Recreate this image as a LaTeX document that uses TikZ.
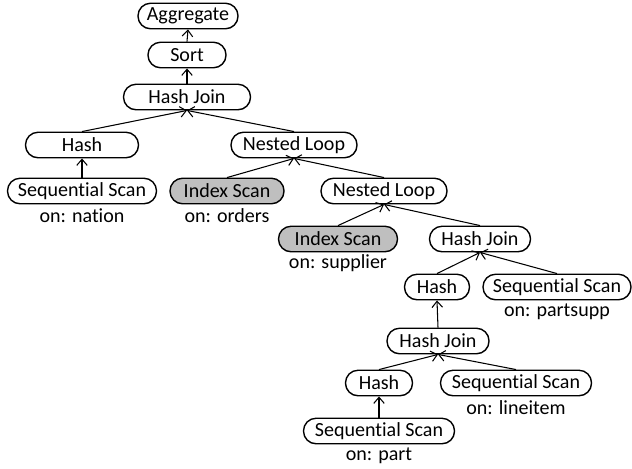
\documentclass[tikz,border=0pt]{standalone}
\usepackage{fontspec}
\setmainfont{Carlito}[Ligatures={NoCommon,NoContextual}]
\usetikzlibrary{arrows.meta}
\begin{document}
\begin{tikzpicture}[x=0.02cm, y=-0.02cm,
    every node/.style={font=\fontsize{11.4}{13}\selectfont},
    op/.style={rectangle, rounded corners=0.25cm, draw, line width=0.8pt, minimum height=0.51cm, inner sep=0pt},
    idx/.style={op, fill=black!25},
    flow/.style={-{Straight Barb[length=3.5pt,width=6pt]}, line width=0.6pt}]
    \useasboundingbox (0,0) rectangle (632,468);

    \draw (188, 16) node[op, minimum width=2.0cm] (agg) {Aggregate};
    \draw (187, 55) node[op, minimum width=1.56cm] (sort) {Sort};
    \draw (187, 97) node[op, minimum width=2.54cm] (hjA) {Hash Join};
    \draw (82, 145) node[op, minimum width=2.26cm] (hashA) {Hash};
    \draw (294, 145) node[op, minimum width=2.52cm] (nlA) {Nested Loop};
    \draw (82, 191) node[op, minimum width=2.98cm] (seqNation) {Sequential Scan};
    \draw (227, 191) node[idx, minimum width=2.28cm] (idxOrders) {Index Scan};
    \draw (384, 191) node[op, minimum width=2.52cm] (nlB) {Nested Loop};
    \draw (338, 239) node[idx, minimum width=2.38cm] (idxSupplier) {Index Scan};
    \draw (480, 239) node[op, minimum width=2.02cm] (hjB) {Hash Join};
    \draw (437, 287) node[op, minimum width=1.3cm] (hashB) {Hash};
    \draw (557, 287) node[op, minimum width=2.96cm] (seqPartsupp) {Sequential Scan};
    \draw (438, 341) node[op, minimum width=2.04cm] (hjC) {Hash Join};
    \draw (379, 383) node[op, minimum width=1.34cm] (hashC) {Hash};
    \draw (516, 383) node[op, minimum width=3.02cm] (seqLineitem) {Sequential Scan};
    \draw (379, 431) node[op, minimum width=3.02cm] (seqPart) {Sequential Scan};

    % table names
    \node at (82, 216) (tNation) {on: nation};
    \node at (227, 216) (tOrders) {on: orders};
    \node at (338, 263) (tSupplier) {on: supplier};
    \node at (557, 312) (tPartsupp) {on: partsupp};
    \node at (516, 408) (tLineitem) {on: lineitem};
    \node at (379, 456) (tPart) {on: part};

    \draw [flow] (sort.north) to (agg.south);
    \draw [flow] (hjA.north) to (sort.south);
    \draw [flow] (hashA.north) to (hjA.south);
    \draw [flow] (nlA.north) to (hjA.south);
    \draw [flow] (seqNation.north) to (hashA.south);
    \draw [flow] (idxOrders.north) to (nlA.south);
    \draw [flow] (nlB.north) to (nlA.south);
    \draw [flow] (idxSupplier.north) to (nlB.south);
    \draw [flow] (hjB.north) to (nlB.south);
    \draw [flow] (hashB.north) to (hjB.south);
    \draw [flow] (seqPartsupp.north) to (hjB.south);
    \draw [flow] (hjC.north) to (hashB.south);
    \draw [flow] (hashC.north) to (hjC.south);
    \draw [flow] (seqLineitem.north) to (hjC.south);
    \draw [flow] (seqPart.north) to (hashC.south);
\end{tikzpicture}
\end{document}
